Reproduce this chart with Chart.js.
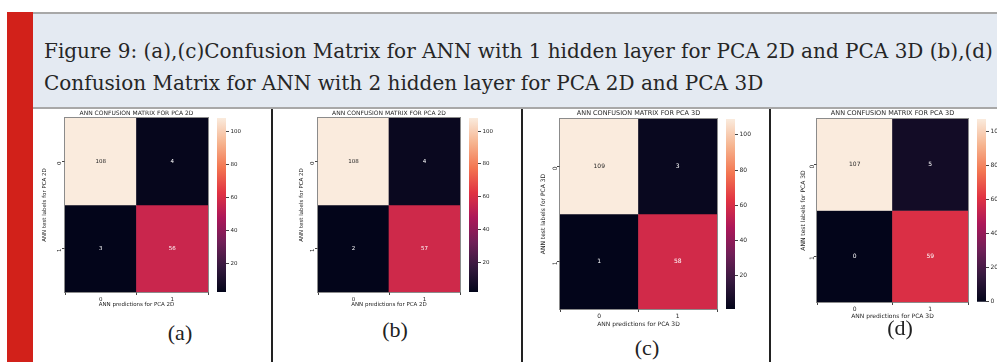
<!DOCTYPE html>
<html>
<head>
<meta charset="utf-8">
<script src="https://cdn.jsdelivr.net/npm/chart.js@4.4.1/dist/chart.umd.min.js"></script>
<style>
  html, body { margin: 0; padding: 0; background: #fff; }
  body { width: 997px; height: 362px; position: relative; overflow: hidden; }
  #redbar { position: absolute; left: 7px; top: 12px; width: 26px; height: 350px; background: #d2211a; }
  #header { position: absolute; left: 33px; top: 12px; width: 964px; height: 93px; background: #e4eaf2;
            border-top: 2px solid #a8a8a8; border-bottom: 2px solid #a8a8a8; overflow: hidden; }
  #headtext { position: absolute; left: 11px; top: 21px; white-space: nowrap; font-family: "DejaVu Serif";
              font-size: 20px; line-height: 32px; color: #262626; }
  .divider { position: absolute; top: 109px; width: 2px; height: 253px; background: #222; }
  .cap { position: absolute; font-family: "Liberation Serif"; font-size: 22px; color: #222;
         transform: translate(-50%, -50%); white-space: nowrap; }
  canvas { position: absolute; }
</style>
</head>
<body>
<div id="redbar"></div>
<div id="header"><div id="headtext">Figure 9: (a),(c)Confusion Matrix for ANN with 1 hidden layer for PCA 2D and PCA 3D (b),(d)<br>Confusion Matrix for ANN with 2 hidden layer for PCA 2D and PCA 3D</div></div>
<div class="divider" style="left:271px"></div>
<div class="divider" style="left:521px"></div>
<div class="divider" style="left:769px"></div>
<script>
// valeurs : une matrice 2x2 par panneau (lignes = vraies classes)
const cellValues = [
  [[108, 4], [3, 56]],
  [[108, 4], [2, 57]],
  [[109, 3], [1, 58]],
  [[107, 5], [0, 59]]
];
const classLabels = ['0', '1'];
const panelTitles = ['ANN CONFUSION MATRIX FOR PCA 2D', 'ANN CONFUSION MATRIX FOR PCA 2D',
                     'ANN CONFUSION MATRIX FOR PCA 3D', 'ANN CONFUSION MATRIX FOR PCA 3D'];
const xTitles = ['ANN predictions for PCA 2D', 'ANN predictions for PCA 2D',
                 'ANN predictions for PCA 3D', 'ANN predictions for PCA 3D'];
const yTitles = ['ANN test labels for PCA 2D', 'ANN test labels for PCA 2D',
                 'ANN test labels for PCA 3D', 'ANN test labels for PCA 3D'];
const colorbarTicks = [0, 20, 40, 60, 80, 100];
const captions = ['(a)', '(b)', '(c)', '(d)'];

// placement des panneaux (px dans la page)
const boxes = [
  { l: 65,  r: 208, t: 118, b: 292, titleY: 113, yLabX: 45,  xLabY: 304, cb: [217, 226], font: 5.5, cap: [180, 333] },
  { l: 318, r: 460, t: 118, b: 292, titleY: 113, yLabX: 302, xLabY: 304, cb: [469, 478], font: 5.5, cap: [395, 330] },
  { l: 560, r: 717, t: 119, b: 309, titleY: 113, yLabX: 543, xLabY: 324, cb: [726, 735], font: 6,   cap: [647, 348] },
  { l: 817, r: 968, t: 119, b: 302, titleY: 113, yLabX: 803, xLabY: 316, cb: [977, 986], font: 6,   cap: [900, 328] }
];

// palette "rocket" de seaborn
const rocketStops = ['#03051a', '#35193e', '#701f57', '#ad1759', '#e13342', '#f37651', '#f6b48f', '#faebdd'];
const hexRgb = h => [1, 3, 5].map(k => parseInt(h.slice(k, k + 2), 16));
function rocket(t) {
  t = Math.min(1, Math.max(0, t));
  const n = rocketStops.length - 1;
  const k = Math.min(n - 1, Math.floor(t * n));
  const f = t * n - k;
  const a = hexRgb(rocketStops[k]), b = hexRgb(rocketStops[k + 1]);
  const c = a.map((v, i) => Math.round(v + (b[i] - v) * f));
  return `rgb(${c[0]},${c[1]},${c[2]})`;
}
function luminance(rgbStr) {
  const c = rgbStr.match(/\d+/g).map(v => {
    v = v / 255;
    return v <= 0.03928 ? v / 12.92 : Math.pow((v + 0.055) / 1.055, 2.4);
  });
  return 0.2126 * c[0] + 0.7152 * c[1] + 0.0722 * c[2];
}

const TXT = '#262626';
const FAMILY = 'DejaVu Sans';

const annotate = {
  id: 'annotate',
  afterDatasetsDraw(chart) {
    const ctx = chart.ctx;
    const size = chart.options.plugins.annotate.size;
    ctx.save();
    ctx.font = `${size}px "${FAMILY}"`;
    ctx.textAlign = 'center';
    ctx.textBaseline = 'middle';
    chart.data.datasets.forEach((ds, di) => {
      chart.getDatasetMeta(di).data.forEach((el, j) => {
        const p = el.getCenterPoint();
        ctx.fillStyle = luminance(ds.backgroundColor[j]) > 0.408 ? TXT : '#ffffff';
        ctx.fillText(String(ds.values[j]), p.x, p.y);
      });
    });
    ctx.restore();
  }
};
const frame = {
  id: 'frame',
  afterDraw(chart) {
    const a = chart.chartArea, ctx = chart.ctx;
    ctx.save();
    ctx.strokeStyle = 'rgba(110,110,110,0.8)';
    ctx.lineWidth = 1;
    ctx.strokeRect(a.left - 0.5, a.top - 0.5, a.right - a.left + 1, a.bottom - a.top + 1);
    ctx.restore();
  }
};

function place(canvas, left, top, w, h) {
  canvas.width = w; canvas.height = h;
  canvas.style.left = left + 'px'; canvas.style.top = top + 'px';
  canvas.style.width = w + 'px'; canvas.style.height = h + 'px';
  document.body.appendChild(canvas);
}

function heatmap(i) {
  const bx = boxes[i], m = cellValues[i];
  const flat = m.flat();
  const vmin = Math.min(...flat), vmax = Math.max(...flat);
  const cLeft = bx.yLabX - 5, cTop = bx.titleY - 5, cRight = bx.r + 3, cBottom = bx.xLabY + 5;
  const f = bx.font;
  const font = { family: FAMILY, size: f };
  const cv = document.createElement('canvas');
  place(cv, cLeft, cTop, cRight - cLeft, cBottom - cTop);

  new Chart(cv, {
    type: 'bar',
    data: {
      labels: classLabels,
      datasets: m.map((row, r) => ({
        values: row,
        data: row.map(() => [m.length - 1 - r, m.length - r]),
        backgroundColor: row.map(v => rocket((v - vmin) / (vmax - vmin))),
        borderWidth: 0,
        grouped: false,
        barPercentage: 1,
        categoryPercentage: 1
      }))
    },
    options: {
      responsive: false,
      animation: false,
      devicePixelRatio: 1,
      layout: { padding: { right: 3 } },
      plugins: {
        legend: { display: false },
        tooltip: { enabled: false },
        annotate: { size: f },
        title: {
          display: true, fullSize: false, text: panelTitles[i], color: TXT,
          font: { family: FAMILY, size: f + 0.5, weight: 'normal', lineHeight: 1.2 },
          padding: { top: 1.4, bottom: bx.t - cTop - 1.4 - (f + 0.5) * 1.2 }
        }
      },
      scales: {
        x: {
          grid: { drawOnChartArea: false, tickLength: 3, color: '#444' },
          border: { display: false },
          ticks: { color: TXT, font, padding: 1, maxRotation: 0 },
          title: { display: true, text: xTitles[i], color: TXT, font, padding: { top: 0, bottom: 1.4 } },
          afterFit: s => { s.height = cBottom - bx.b; }
        },
        y: {
          min: 0, max: m.length,
          afterBuildTicks: s => { s.ticks = classLabels.map((_, k) => ({ value: m.length - 0.5 - k })); },
          grid: { drawOnChartArea: false, tickLength: 3, color: '#444' },
          border: { display: false },
          ticks: {
            color: TXT, font, padding: 2, minRotation: 90, maxRotation: 90,
            callback: v => classLabels[Math.round(m.length - 0.5 - v)]
          },
          title: { display: true, text: yTitles[i], color: TXT, font, padding: { top: 1.4, bottom: 0 } },
          afterFit: s => { s.width = bx.l - cLeft; }
        }
      }
    },
    plugins: [annotate, frame]
  });
}

function colorbar(i) {
  const bx = boxes[i], flat = cellValues[i].flat();
  const vmin = Math.min(...flat), vmax = Math.max(...flat);
  const font = { family: FAMILY, size: bx.font };
  const barW = bx.cb[1] - bx.cb[0];
  const cv = document.createElement('canvas');
  place(cv, bx.cb[0], bx.t - 5, 32, bx.b - bx.t + 10);

  new Chart(cv, {
    type: 'bar',
    data: {
      labels: [''],
      datasets: [{
        data: [[vmin, vmax]],
        borderWidth: 0,
        barPercentage: 1,
        categoryPercentage: 1,
        backgroundColor: c => {
          const a = c.chart.chartArea;
          if (!a) return rocketStops[3];
          const g = c.chart.ctx.createLinearGradient(0, a.bottom, 0, a.top);
          rocketStops.forEach((s, k) => g.addColorStop(k / (rocketStops.length - 1), s));
          return g;
        }
      }]
    },
    options: {
      responsive: false,
      animation: false,
      devicePixelRatio: 1,
      layout: { padding: { top: 5, bottom: 5 } },
      plugins: { legend: { display: false }, tooltip: { enabled: false } },
      scales: {
        x: { display: false },
        y: {
          position: 'right', min: vmin, max: vmax,
          afterBuildTicks: s => {
            s.ticks = colorbarTicks.filter(v => v >= vmin && v <= vmax).map(v => ({ value: v }));
          },
          grid: { drawOnChartArea: false, tickLength: 3, color: '#444' },
          border: { display: false },
          ticks: { color: TXT, font, padding: 1.5 },
          afterFit: s => { s.width = 32 - barW; }
        }
      }
    }
  });
}

boxes.forEach((bx, i) => {
  heatmap(i);
  colorbar(i);
  const cap = document.createElement('div');
  cap.className = 'cap';
  cap.textContent = captions[i];
  cap.style.left = bx.cap[0] + 'px';
  cap.style.top = bx.cap[1] + 'px';
  document.body.appendChild(cap);
});
</script>
</body>
</html>
